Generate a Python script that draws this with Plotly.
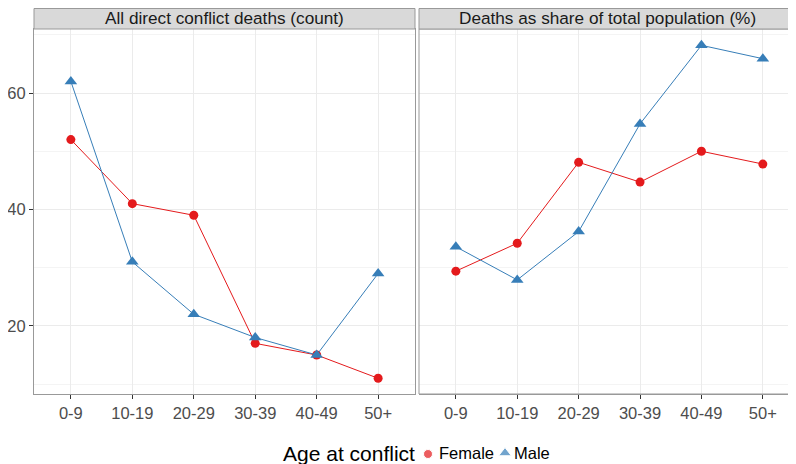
import plotly.graph_objects as go

ages = ["0-9", "10-19", "20-29", "30-39", "40-49", "50+"]
panel_titles = ["All direct conflict deaths (count)", "Deaths as share of total population (%)"]
female_count = [52, 41, 39, 17, 15, 11]
male_count = [62, 31, 22, 18, 15, 29]
female_share = [29.4, 34.2, 48.1, 44.7, 50.0, 47.8]
male_share = [33.6, 27.9, 36.2, 54.7, 68.2, 65.9]
y_ticks = [20, 40, 60]
legend_title = "Age at conflict"
legend_names = ["Female", "Male"]

RED = "#E41A1C"
BLUE = "#377EB8"
# page body has an 8px margin; size the figure so it fills the rest of the window
OFF = 8
W, H = 796 - OFF, 464 - OFF
FONT = "Liberation Sans, Arial, sans-serif"

def px(x):
    return (x - OFF) / W

def py(y):
    return (H - (y - OFF)) / H

fig = go.Figure()

def add(x, y, name, color, symbol, size, xa):
    fig.add_trace(go.Scatter(
        x=x, y=y, name=name, mode="lines+markers",
        line=dict(color=color, width=1),
        marker=dict(color=color, symbol=symbol, size=size),
        xaxis=xa, yaxis="y", showlegend=False))

add(ages, female_count, "Female", RED, "circle", 9, "x")
add(ages, male_count, "Male", BLUE, "triangle-up", 11, "x")
add(ages, female_share, "Female", RED, "circle", 9, "x2")
add(ages, male_share, "Male", BLUE, "triangle-up", 11, "x2")

y0 = py(394)
y1 = py(29)
strip_top = min(1.0, py(8.5))
d1 = [px(34), px(415)]
d2 = [px(419), 1.0]

axis_common = dict(
    showline=True, mirror=True, linecolor="#999999", linewidth=1,
    ticks="outside", ticklen=4, tickcolor="#333333", tickwidth=1,
    tickfont=dict(size=16.5, color="#4D4D4D", family=FONT),
    showgrid=True, gridcolor="#EBEBEB", gridwidth=1, zeroline=False,
    automargin=False,
)

# separate strip-shaped axes (below the tick labels) for the legend keys, in window-pixel units
LEG_TOP = 436
fig.add_trace(go.Scatter(x=[428, 505], y=[454, 453], mode="markers",
                         marker=dict(color=[RED, BLUE], symbol=["circle", "triangle-up"], size=[9, 11]),
                         xaxis="x3", yaxis="y3", showlegend=False, hoverinfo="skip"))

fig.update_layout(
    width=W, height=H,
    margin=dict(l=0, r=0, t=0, b=0, autoexpand=False),
    paper_bgcolor="white", plot_bgcolor="white",
    font=dict(family=FONT),
    showlegend=False,
    xaxis=dict(domain=d1, range=[-0.6, 5.6], type="category", anchor="y", **axis_common),
    xaxis2=dict(domain=d2, range=[-0.6, 5.54], type="category", anchor="y", **axis_common),
    yaxis=dict(domain=[y0, y1], range=[8.3, 71.0], tickvals=y_ticks, anchor="x",
               minor=dict(tickvals=[10, 30, 50, 70], showgrid=True, gridcolor="#F4F4F4", ticks=""),
               **axis_common),
    xaxis3=dict(domain=[0, 1], range=[OFF, 796], visible=False, fixedrange=True, anchor="y3"),
    yaxis3=dict(domain=[0, py(LEG_TOP)], range=[464, LEG_TOP], visible=False, fixedrange=True, anchor="x3"),
)

fig.add_shape(type="rect", xref="paper", yref="paper", x0=d2[0], x1=d2[1], y0=y0, y1=y1,
              line=dict(color="#999999", width=1), fillcolor="rgba(0,0,0,0)", layer="above")

for d, t in zip([d1, d2], panel_titles):
    fig.add_shape(type="rect", xref="paper", yref="paper", x0=d[0], x1=d[1], y0=y1, y1=strip_top,
                  line=dict(color="#999999", width=1), fillcolor="#D9D9D9")
    fig.add_annotation(x=(d[0] + d[1]) / 2, y=py(18.5), xref="paper", yref="paper",
                       text=t, showarrow=False, font=dict(size=17.2, color="#1A1A1A", family=FONT),
                       xanchor="center", yanchor="middle")

fig.add_annotation(x=px(417), y=py(453), xref="paper", yref="paper", text=legend_title,
                   showarrow=False, xanchor="right", yanchor="middle",
                   font=dict(size=21, color="black", family=FONT))
for x_left, name in zip([437, 512], legend_names):
    fig.add_annotation(x=px(x_left), y=py(453), xref="paper", yref="paper", text=name,
                       showarrow=False, xanchor="left", yanchor="middle",
                       font=dict(size=16.5, color="black", family=FONT))

fig.write_html("out.html")
